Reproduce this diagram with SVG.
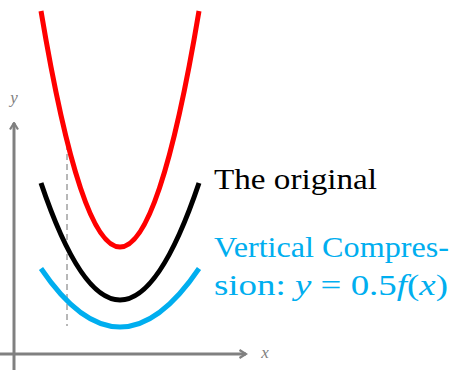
<svg xmlns="http://www.w3.org/2000/svg" width="462" height="370" viewBox="0 0 462 370">
<style>
.axis{stroke:#808080;stroke-width:3;fill:none}
.curve{fill:none;stroke-width:5;stroke-linecap:butt}
.lbl{font-family:"Liberation Serif","DejaVu Serif",serif;font-style:italic;fill:#808080;font-size:17px}
.txt{font-family:"Liberation Serif","DejaVu Serif",serif;font-size:30px}
.it{font-style:italic}
</style>
<defs>
<marker id="arr" viewBox="0 0 10 10" refX="8.5" refY="5" markerWidth="10" markerHeight="10" markerUnits="userSpaceOnUse" orient="auto">
<path d="M2,1 L8.5,5 L2,9" fill="none" stroke="#808080" stroke-width="2.2"/>
</marker>
</defs>
<g id="axes">
<line class="axis" x1="14" y1="370" x2="14" y2="123" marker-end="url(#arr)"/>
<line class="axis" x1="0" y1="354" x2="246" y2="354" marker-end="url(#arr)"/>
<text class="lbl" x="14" y="103" text-anchor="middle">y</text>
<text class="lbl" x="265" y="358" text-anchor="middle">x</text>
</g>
<g id="connectors">
<line x1="67" y1="144" x2="67" y2="326" stroke="#707070" stroke-width="1" stroke-dasharray="6,4"/>
</g>
<g id="red-curve">
<path class="curve" stroke="#ff0000" d="M41,11 Q120,483 199,11"/>
</g>
<g id="original">
<path class="curve" stroke="#000000" d="M41,183 Q120,417 199,183"/>
<text class="txt" x="214" y="189" fill="#000000" textLength="163" lengthAdjust="spacingAndGlyphs">The original</text>
</g>
<g id="compression">
<path class="curve" stroke="#00aeef" d="M41,268.5 Q120,385.5 199,268.5"/>
<text class="txt" x="214" y="257" fill="#00aeef" textLength="235" lengthAdjust="spacingAndGlyphs">Vertical Compres-</text>
<text class="txt" x="214" y="295" fill="#00aeef" textLength="234" lengthAdjust="spacingAndGlyphs">sion:  <tspan class="it">y</tspan> = 0.5<tspan class="it">f</tspan>(<tspan class="it">x</tspan>)</text>
</g>
</svg>
